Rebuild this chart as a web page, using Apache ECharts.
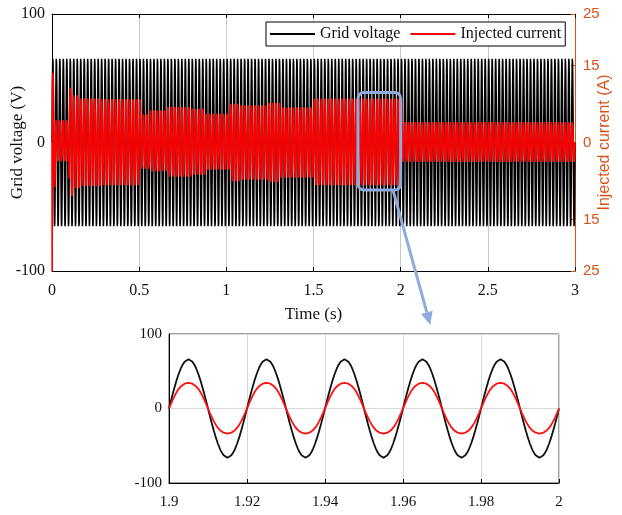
<!DOCTYPE html>
<html>
<head>
<meta charset="utf-8">
<script src="https://cdn.jsdelivr.net/npm/echarts@6/dist/echarts.min.js"></script>
<style>
  html, body { margin: 0; padding: 0; background: #fff; }
  #chart { width: 622px; height: 515px; }
</style>
</head>
<body>
<div id="chart"></div>
<script>
// values
const gridFreq = 50;            // Hz
const gridVoltageAmp = 66;      // V peak
const timeEnd = 3;              // s
const samplesPerCycle = 40;

// injected current envelope: segment start (s), positive peak (A), negative peak (A)
const envStart = [0, 0.02, 0.098, 0.12, 0.16, 0.28, 0.505, 0.56, 0.66, 0.8, 0.88, 1.02, 1.08, 1.24, 1.31, 1.5, 2.01];
const envUpper = [14, 4.5, 11, 9.5, 8.9, 8.5, 5.7, 6.3, 7.0, 6.6, 5.8, 7.6, 7.3, 7.8, 6.9, 8.6, 4.3];
const envLower = [9, 4.0, 10.8, 9.2, 8.8, 8.4, 5.3, 5.8, 6.7, 6.3, 5.5, 7.6, 7.3, 7.8, 6.9, 8.4, 4.1];
// start-up spike of the current
const spikeTimes = [0, 0.001, 0.002];
const spikeValues = [0, -25, -9];
const currentFlatten = 0.04;    // slightly flat tops seen on the zoomed trace

const rightTicks = [-25, -15, 0, 15, 25];
const zoomRange = [1.9, 2.0];
const boxTime = [1.755, 2.0];
const boxVolt = [-37, 39];
const arrowFrom = [1.956, -37];
const arrowTo = [1.967, 100];

const ORANGE = '#D95319';
const BLUE = '#8FAADC';
const SERIF = 'Liberation Serif';

function envAt(t, arr) {
  let k = 0;
  for (let i = 0; i < envStart.length; i++) if (envStart[i] <= t) k = i;
  return arr[k];
}

const voltageData = [];
const currentData = spikeTimes.map((t, i) => [t, spikeValues[i]]);
const dt = 1 / (gridFreq * samplesPerCycle);
const nSamples = Math.round(timeEnd / dt);
for (let n = 0; n <= nSamples; n++) {
  const t = +(n * dt).toFixed(5);
  const w = 2 * Math.PI * gridFreq * t;
  voltageData.push([t, gridVoltageAmp * Math.sin(w)]);
  if (t > spikeTimes[spikeTimes.length - 1]) {
    const s = (Math.sin(w) + currentFlatten * Math.sin(3 * w)) / (1 - currentFlatten);
    currentData.push([t, s >= 0 ? envAt(t, envUpper) * s : envAt(t, envLower) * s]);
  }
}
const inZoom = p => p[0] >= zoomRange[0] - 1e-6 && p[0] <= zoomRange[1] + 1e-6;

const chart = echarts.init(document.getElementById('chart'));
const labelSerif = { fontFamily: SERIF, fontSize: 16, color: '#111' };

const option = {
  animation: false,
  backgroundColor: '#fff',
  legend: {
    data: ['Grid voltage', 'Injected current'],
    left: 266, top: 22,
    icon: 'rect', itemWidth: 45, itemHeight: 2, itemGap: 10,
    borderColor: '#000', borderWidth: 1, backgroundColor: '#fff',
    padding: [4, 4, 4, 4],
    textStyle: { fontFamily: SERIF, fontSize: 16, color: '#111' }
  },
  grid: [
    { left: 52, top: 14, width: 523, height: 257, outerBoundsMode: 'none' },
    { left: 169, top: 334, width: 390, height: 149, outerBoundsMode: 'none',
      show: true, borderColor: '#444', borderWidth: 1 }
  ],
  xAxis: [
    {
      type: 'value', gridIndex: 0, min: 0, max: timeEnd, interval: 0.5,
      name: 'Time (s)', nameLocation: 'middle', nameGap: 35, nameMoveOverlap: false,
      nameTextStyle: { fontFamily: SERIF, fontSize: 17, color: '#111' },
      axisLine: { onZero: false, lineStyle: { color: '#000' } },
      axisTick: { inside: true, length: 4, lineStyle: { color: '#000' } },
      axisLabel: Object.assign({ margin: 12 }, labelSerif),
      splitLine: { show: true, lineStyle: { color: '#c8c8c8' } }
    },
    {
      type: 'value', gridIndex: 0, position: 'top', min: 0, max: timeEnd, interval: 0.5,
      axisLine: { onZero: false, lineStyle: { color: '#000' } },
      axisTick: { inside: true, length: 4, lineStyle: { color: '#000' } },
      axisLabel: { show: false }, splitLine: { show: false }
    },
    {
      type: 'value', gridIndex: 1, min: zoomRange[0], max: zoomRange[1], interval: 0.02,
      axisLine: { onZero: false, lineStyle: { color: '#000' } },
      axisTick: { inside: true, length: 4, lineStyle: { color: '#000' } },
      axisLabel: { margin: 12, fontFamily: SERIF, fontSize: 15, color: '#111' },
      splitLine: { show: true, lineStyle: { color: '#d8d8d8' } }
    }
  ],
  yAxis: [
    {
      type: 'value', gridIndex: 0, min: -100, max: 100, interval: 100,
      name: 'Grid voltage (V)', nameLocation: 'middle', nameGap: 26, nameRotate: 90,
      nameMoveOverlap: false,
      nameTextStyle: { fontFamily: SERIF, fontSize: 17, color: '#111' },
      axisLine: { show: true, onZero: false, lineStyle: { color: '#000' } },
      axisTick: { show: true, inside: true, length: 4, lineStyle: { color: '#000' } },
      axisLabel: Object.assign({ margin: 7 }, labelSerif),
      splitLine: { show: false }
    },
    {
      type: 'value', gridIndex: 0, position: 'right', min: -25, max: 25,
      name: 'Injected current (A)', nameLocation: 'middle', nameGap: 22, nameRotate: 90,
      nameMoveOverlap: false,
      nameTextStyle: { fontFamily: 'Liberation Sans', fontSize: 16, color: ORANGE },
      axisLine: { show: true, onZero: false, lineStyle: { color: ORANGE } },
      axisTick: { show: true, inside: true, length: 4, customValues: rightTicks, lineStyle: { color: ORANGE } },
      axisLabel: {
        margin: 8, customValues: rightTicks, fontFamily: 'Liberation Sans', fontSize: 15, color: ORANGE,
        formatter: v => String(Math.abs(v))
      },
      splitLine: { show: false }
    },
    {
      type: 'value', gridIndex: 1, min: -100, max: 100, interval: 100,
      axisLine: { show: true, onZero: false, lineStyle: { color: '#000' } },
      axisTick: { show: false },
      axisLabel: { margin: 7, fontFamily: SERIF, fontSize: 15, color: '#111' },
      splitLine: { show: true, lineStyle: { color: '#d8d8d8' } }
    },
    {
      type: 'value', gridIndex: 1, position: 'right', min: -25, max: 25, show: false
    }
  ],
  series: [
    {
      name: 'Grid voltage', type: 'line', xAxisIndex: 0, yAxisIndex: 0,
      data: voltageData, showSymbol: false, symbol: 'none',
      color: '#000', lineStyle: { color: '#000', width: 1.5 }, z: 2
    },
    {
      name: 'Injected current', type: 'line', xAxisIndex: 0, yAxisIndex: 1,
      data: currentData, showSymbol: false, symbol: 'none',
      color: '#ff0000', lineStyle: { color: '#ff0000', width: 1.6 }, z: 3
    },
    {
      name: 'Grid voltage', type: 'line', xAxisIndex: 2, yAxisIndex: 2,
      data: voltageData.filter(inZoom), showSymbol: false, symbol: 'none',
      color: '#000', lineStyle: { color: '#111', width: 1.8 }, z: 2
    },
    {
      name: 'Injected current', type: 'line', xAxisIndex: 2, yAxisIndex: 3,
      data: currentData.filter(inZoom), showSymbol: false, symbol: 'none',
      color: '#ff0000', lineStyle: { color: '#ff1010', width: 1.8 }, z: 3
    }
  ]
};
chart.setOption(option);

// zoom marker: box on the top plot and arrow down to the inset
const b1 = chart.convertToPixel({ seriesIndex: 0 }, [boxTime[0], boxVolt[1]]);
const b2 = chart.convertToPixel({ seriesIndex: 0 }, [boxTime[1], boxVolt[0]]);
const a1 = chart.convertToPixel({ seriesIndex: 0 }, arrowFrom);
const a2 = chart.convertToPixel({ seriesIndex: 2 }, arrowTo);
a2[1] -= 9;
const dx = a2[0] - a1[0], dy = a2[1] - a1[1];
const len = Math.sqrt(dx * dx + dy * dy);
const ux = dx / len, uy = dy / len;
const headLen = 13, headW = 6;
const base = [a2[0] - ux * headLen, a2[1] - uy * headLen];

chart.setOption({
  graphic: [
    {
      type: 'rect', z: 100,
      shape: { x: b1[0], y: b1[1], width: b2[0] - b1[0], height: b2[1] - b1[1], r: 6 },
      style: { fill: 'none', stroke: BLUE, lineWidth: 3 }
    },
    {
      type: 'line', z: 100,
      shape: { x1: a1[0], y1: a1[1], x2: base[0], y2: base[1] },
      style: { stroke: BLUE, lineWidth: 3 }
    },
    {
      type: 'polygon', z: 100,
      shape: {
        points: [
          a2,
          [base[0] - uy * headW, base[1] + ux * headW],
          [base[0] + uy * headW, base[1] - ux * headW]
        ]
      },
      style: { fill: BLUE }
    }
  ]
});
</script>
</body>
</html>
